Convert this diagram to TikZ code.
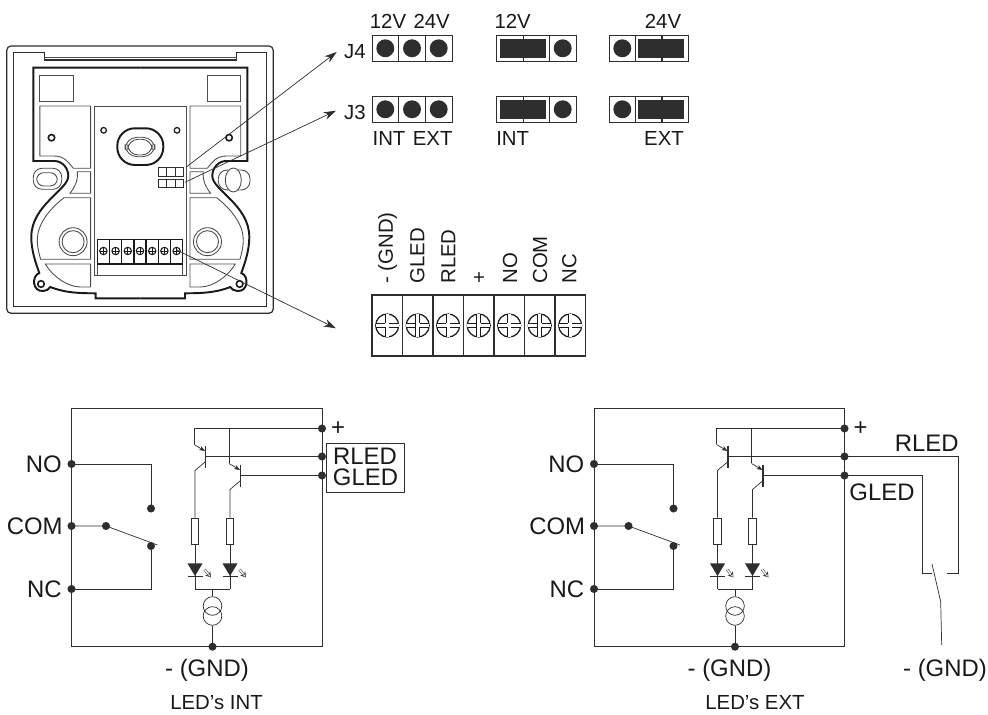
\documentclass[tikz,border=0pt]{standalone}
\usepackage{fontspec}
\setmainfont{Liberation Sans}
\usepackage{xcolor}
\usetikzlibrary{arrows.meta,positioning}
\definecolor{wire}{gray}{0.18}
\definecolor{case}{gray}{0.3}
\newcommand{\ledcircuit}[1]{%
    % Outer box
    \draw[wire] (71.5,408.5) rectangle (322,646.7);
    % Terminals on the box
    \node[point] (#1-plus) at (322,428.5) {};
    \node[point] (#1-rled) at (322,456.5) {};
    \node[point] (#1-gled) at (322,475.5) {};
    \node[point] (#1-no) at (71.5,464) {};
    \node[point] (#1-com) at (71.5,526) {};
    \node[point] (#1-nc) at (71.5,589) {};
    \node[point] (#1-gnd) at (212.5,646.7) {};
    % Relay contact
    \node[point] (#1-nop) at (151,508.5) {};
    \node[point] (#1-pivot) at (106,526) {};
    \node[point] (#1-ncp) at (151,546) {};
    \coordinate (#1-blade) at (157.5,545);
    \draw[wire] (#1-no.center) -| (#1-nop.center);
    \draw[wire] (#1-com.center) -- (#1-pivot.center) -- (#1-blade);
    \draw[wire] (#1-nc.center) -| (#1-ncp.center);
    % Supply rail
    \coordinate (#1-rail) at (194,428.5);
    \draw[wire] (#1-plus.center) -- (#1-rail);
    % Transistor, resistor and LED of each branch
    \foreach \k/\tx/\by in {r/194/456.5, g/229/475.5} {
        \draw[wire] (\tx,428.5) -- (\tx,\by-12);
        \draw[wire,-{Stealth[length=3.4pt,width=2.6pt]}] (\tx,\by-12) -- (\tx+11,\by-5.5);
        \draw[wire,line width=.7pt] (\tx+11.5,\by-10.5) -- (\tx+11.5,\by+11.5);
        \draw[wire] (\tx+11.5,\by) -- (#1-\k led.center);
        \node[resistor] (#1-\k res) at (\tx+1,531) {};
        \draw[wire] (\tx+11,\by+5.5) -- (\tx+1,\by+14) -- (#1-\k res.north);
        \draw[wire] (#1-\k res.south) -- (\tx+1,589);
        \fill[wire] (\tx-6.5,563.5) -- (\tx+8.5,563.5) -- (\tx+1,576) -- cycle;
        \draw[wire] (\tx-6.5,576) -- (\tx+8.5,576);
        \draw[ledray] (\tx+10.5,569.5) -- (\tx+17,577.5);
    }
    \draw[wire] (195,589) -- (230,589);
    % Current source
    \node[source] (#1-csa) at (212.5,606) {};
    \node[source] (#1-csb) at (212.5,616) {};
    \draw[wire] (212.5,589) -- (#1-csa.north);
    \draw[wire] (#1-csb.south) -- (#1-gnd.center);
    % Labels
    \node[lab,anchor=east] (#1-nolab) at (62,464) {NO};
    \node[lab,anchor=east] (#1-comlab) at (63,526) {COM};
    \node[lab,anchor=east] (#1-nclab) at (62,589) {NC};
    \node[lab] (#1-pluslab) at (338,429) {+};
    \node[lab] (#1-gndlab) at (207,670) {- (GND)};
}
\begin{document}
\begin{tikzpicture}[x=0.02cm,y=-0.02cm,>={Stealth[length=7pt,width=4.5pt]}]
    \tikzstyle{point}=[circle,fill=wire,inner sep=0pt,minimum size=4.6pt]
    \tikzstyle{resistor}=[draw=wire,inner sep=0pt,minimum width=4.3pt,minimum height=14.8pt]
    \tikzstyle{source}=[circle,draw=wire,inner sep=0pt,minimum size=10.6pt]
    \tikzstyle{ledray}=[wire,line width=.3pt,double,double distance=.8pt,-{Stealth[length=3pt,width=3.8pt,open,line width=.3pt]}]
    \tikzstyle{lab}=[inner sep=0pt,text=black!90,font=\fontsize{13.6}{15}\selectfont]
    \tikzstyle{midlab}=[inner sep=0pt,text=black!90,font=\fontsize{11.6}{14}\selectfont]
    \tikzstyle{jumper}=[draw=wire,inner sep=0pt,minimum width=15.1pt,minimum height=15.1pt]
    \tikzstyle{pin}=[circle,fill=wire,inner sep=0pt,minimum size=10.2pt]
    \tikzstyle{link}=[fill=wire,inner sep=0pt,minimum width=26pt,minimum height=11pt]
    \tikzstyle{shell}=[case,line width=.5pt]
    \tikzstyle{contour}=[black!90,line width=1.1pt]
    \useasboundingbox (0,0) rectangle (988,715);

    % Housing outline
    \draw[wire,line width=.7pt,rounded corners=2.5pt] (6.7,46) rectangle (273.3,313.3);
    \draw[wire,line width=.9pt] (13.3,52.7) -- (44.3,52.7) -- (44.3,60) -- (236.7,60) -- (236.7,52.7) -- (266.7,52.7) -- (266.7,306.7) -- (13.3,306.7) -- cycle;
    \draw[shell] (44.3,57.5) -- (236.7,57.5);

    % One half of the mounting plate, drawn twice
    \foreach \flip in {1,-1} {
        \begin{scope}[shift={(140.3,0)},xscale=\flip]
            \draw[contour] (0,67.7) -- (107,67.7) -- (107,161) -- (86,161)
            .. controls (78,161) and (72,168) .. (72,176)
            .. controls (72,190) and (109,205) .. (109,237)
            .. controls (109,250) and (105,262) .. (101,273)
            .. controls (109,276) and (108,292) .. (97,291)
            .. controls (94,291) and (91,289) .. (90,287)
            .. controls (75,293) and (60,293.3) .. (44.7,293.3)
            -- (44.7,298.3) -- (0,298.3);
            \draw[shell] (67,75) rectangle (100.4,101.7);
            \draw[shell] (49.7,168.3) -- (49.7,106) -- (100.4,106) -- (100.4,156) -- (86.4,156)
            .. controls (76,156) and (72,162) .. (67,168.3) -- (49.7,168.3);
            \draw[shell] (49.7,171.7) -- (63,171.7) .. controls (62,181) and (66,188) .. (70.3,193.3) -- (49.7,193.3) -- cycle;
            \draw[shell] (49.7,197.7) -- (76.4,197.7) .. controls (92,210) and (103,225) .. (103,240) .. controls (103,248) and (101,254) .. (99.7,259.3) -- (49.7,259.3) -- cycle;
            \draw[shell] (49.7,264) -- (95,264) .. controls (88,276) and (73,287) .. (60,287) -- (49.7,287) -- cycle;
            \draw[contour,line width=.9pt] (88.8,137.7) circle (3.2);
            \draw[contour,line width=.9pt] (99.3,284) circle (3.3);
            \draw[shell] (67.2,241.7) circle (14);
            \draw[shell] (67.2,241.7) circle (11);
            \draw[contour,line width=.7pt] (36.7,130.3) circle (2.8);
        \end{scope}
    }

    % Left slot and right knob
    \draw[shell,rounded corners=5pt] (33.3,168.3) rectangle (61.7,189.3);
    \draw[shell,rounded corners=4pt] (36.7,172.7) rectangle (57.3,186);
    \draw[shell,rounded corners=5pt] (218.3,170) rectangle (250,190);
    \draw[shell,fill=white] (233.3,180) ellipse (8 and 12);

    % Centre board
    \draw[shell] (94.3,106) rectangle (186,275);
    \draw[contour,rounded corners=10pt] (117.3,128.3) rectangle (163.3,165);
    \draw[shell,rounded corners=7pt] (125,137.3) rectangle (155,156.7);
    \draw[shell,rounded corners=6pt] (127.7,139.3) rectangle (152.3,155);

    % Small jumper grid on the board
    \draw[wire] (158.7,167.7) rectangle (183,176.7);
    \draw[wire] (158.7,179) rectangle (183,187);
    \foreach \x in {166.8,174.9} {
        \draw[wire] (\x,167.7) -- (\x,176.7);
        \draw[wire] (\x,179) -- (\x,187);
    }
    \coordinate (j4src) at (186.7,166.7);
    \coordinate (j3src) at (185,182.3);

    % Small terminal strip on the board
    \draw[shell] (97.3,264) -- (97.3,275);
    \draw[shell] (182.7,264) -- (182.7,275);
    \draw[black!90,line width=.7pt] (97.3,264) -- (97.3,239.3) -- (182.7,239.3) -- (182.7,264);
    \draw[black!90,line width=1pt] (97.3,264) -- (182.7,264);
    \foreach \i in {0,...,6} {
        \draw[black!90,line width=.7pt] (97.3+12.2*\i,239.3) -- (97.3+12.2*\i,264);
        \draw[black!90,line width=.6pt] (103.4+12.2*\i,251) circle (3.7);
        \draw[black!90,line width=.4pt] (100+12.2*\i,251) -- (106.8+12.2*\i,251);
        \draw[black!90,line width=.4pt] (103.4+12.2*\i,247.6) -- (103.4+12.2*\i,254.4);
    }
    \coordinate (termsrc) at (176.7,250);

    % Jumpers, all rows
    \foreach \row/\cy in {J4/48.3,J3/109.3} {
        \foreach \x [count=\i] in {385.3,412,438.7} {
            \node[jumper] (\row a\i) at (\x,\cy) {};
            \node[pin] (\row ap\i) at (\x,\cy) {};
        }
        \foreach \x [count=\i] in {510,536.3,562.7} {
            \node[jumper] (\row b\i) at (\x,\cy) {};
        }
        \node[link] (\row blink) at (523,\cy) {};
        \node[pin] (\row bpin) at (562.7,\cy) {};
        \foreach \x [count=\i] in {622.3,648.7,675} {
            \node[jumper] (\row c\i) at (\x,\cy) {};
        }
        \node[pin] (\row cpin) at (622.3,\cy) {};
        \node[link] (\row clink) at (661,\cy) {};
    }
    \node[midlab] (jfour) at (355,52) {J4};
    \node[midlab] (jthree) at (355,112) {J3};
    \node[midlab] (top12a) at (388,21) {12V};
    \node[midlab] (top24a) at (431.7,21) {24V};
    \node[midlab] (top12b) at (512.7,21) {12V};
    \node[midlab] (top24c) at (663,21) {24V};
    \node[midlab] (intA) at (389,138) {INT};
    \node[midlab] (extA) at (432.7,138) {EXT};
    \node[midlab] (intB) at (512.7,138) {INT};
    \node[midlab] (extC) at (664,138) {EXT};

    % Arrows from the plate
    \coordinate (j4tip) at (336.7,52);
    \coordinate (j3tip) at (336,110.7);
    \coordinate (termtip) at (336,328.3);
    \draw[->,wire] (j4src) -- (j4tip);
    \draw[->,wire] (j3src) -- (j3tip);
    \draw[->,wire] (termsrc) -- (termtip);

    % Terminal block
    \foreach \txt/\lx [count=\i] in {- (GND)/387.7, GLED/417.3, RLED/448.3, +/480, NO/510, COM/540, NC/569.3} {
        \node[midlab,rotate=90,anchor=west] (tlab\i) at (\lx,284) {\txt};
        \node[draw=wire,thick,inner sep=0pt,minimum width=17.3pt,minimum height=34.6pt] (tcell\i) at (387.2+30.5*\i-30.5,325.5) {};
        \begin{scope}[shift={(tcell\i.center)}]
            \draw[black!90,line width=.7pt] (0,0) circle (11.5);
            \draw[black!90,line width=.45pt,double,double distance=1.7pt] (-11.5,0) -- (11.5,0);
            \draw[black!90,line width=.45pt,double,double distance=1.7pt] (0,-11.5) -- (0,11.5);
            \fill[white] (-2,-2) rectangle (2,2);
        \end{scope}
    }

    % INT circuit
    \begin{scope}
        \ledcircuit{int}
    \end{scope}
    \node[draw=wire,inner sep=0pt,minimum width=44pt,minimum height=27.8pt] (ledbox) at (365.2,468.2) {};
    \node[lab] (intrled) at (365,456.5) {RLED};
    \node[lab] (intgled) at (365.5,477) {GLED};
    \node[midlab] (intcap) at (216.5,703) {LED's INT};

    % EXT circuit
    \begin{scope}[shift={(522.5,0)}]
        \ledcircuit{ext}
    \end{scope}
    \node[midlab] (extcap) at (755,703) {LED's EXT};
    \node[lab] (extrled) at (926.7,443) {RLED};
    \node[lab] (extgled) at (882,492) {GLED};
    \node[lab] (swgnd) at (945,670) {- (GND)};

    % External wiring with its switch
    \coordinate (swr) at (947,573);
    \coordinate (swg) at (932.3,573);
    \coordinate (swtop) at (932,564);
    \coordinate (swknee) at (940.7,601.7);
    \coordinate (swend) at (941.7,645);
    \draw[wire] (ext-rled.center) -- (958.5,456.5) -- (958.5,573) -- (swr);
    \draw[wire] (ext-gled.center) -- (922.3,475.5) -- (922.3,573) -- (swg);
    \draw[wire] (swtop) -- (swknee) -- (swend);
\end{tikzpicture}
\end{document}
